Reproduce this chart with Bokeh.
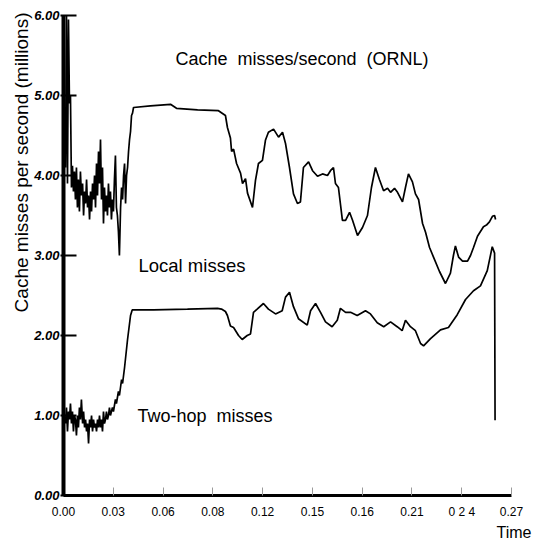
from bokeh.plotting import figure
from bokeh.models import FixedTicker, Label, NumeralTickFormatter, Title
from bokeh.embed import file_html
from bokeh.resources import INLINE

# ---------------- data ----------------
local_t = [0.0012, 0.0018, 0.0024, 0.0030, 0.0036, 0.0042, 0.0048, 0.0054, 0.0060, 0.0066,
           0.0072, 0.0078, 0.0084, 0.0090, 0.0096, 0.0102, 0.0108, 0.0115, 0.0121, 0.0127,
           0.0133, 0.0139, 0.0145, 0.0151, 0.0157, 0.0163, 0.0169, 0.0175, 0.0181, 0.0187,
           0.0193, 0.0199, 0.0205, 0.0211, 0.0217, 0.0223, 0.0229, 0.0235, 0.0241, 0.0247,
           0.0253, 0.0259, 0.0265, 0.0271, 0.0277, 0.0283, 0.0289, 0.0295, 0.0301, 0.0307,
           0.0313, 0.0319, 0.0325, 0.0331, 0.0337, 0.0344, 0.0350, 0.0356, 0.0362, 0.0368,
           0.0374, 0.0380, 0.0386, 0.0392, 0.0398, 0.0404, 0.0410, 0.0416, 0.0422,
           0.0524, 0.0645, 0.0681, 0.0808, 0.0934, 0.0976, 0.0988, 0.1006, 0.1013, 0.1025,
           0.1043, 0.1067, 0.1079, 0.1097, 0.1109, 0.1139, 0.1157, 0.1175, 0.1199, 0.1217,
           0.1235, 0.1266, 0.1296, 0.1320, 0.1338, 0.1362, 0.1386, 0.1410, 0.1428, 0.1446,
           0.1477, 0.1501, 0.1531, 0.1561, 0.1591, 0.1609, 0.1627, 0.1639, 0.1657, 0.1681,
           0.1700, 0.1724, 0.1742, 0.1772, 0.1802, 0.1832, 0.1856, 0.1880, 0.1904, 0.1929,
           0.1953, 0.1971, 0.1995, 0.2013, 0.2043, 0.2061, 0.2079, 0.2103, 0.2121, 0.2140,
           0.2164, 0.2182, 0.2206, 0.2230, 0.2266, 0.2302, 0.2332, 0.2350, 0.2362, 0.2381,
           0.2405, 0.2435, 0.2453, 0.2471, 0.2495, 0.2513, 0.2531, 0.2549, 0.2567, 0.2585,
           0.2598, 0.2604]
local_v = [4.10, 6.00, 3.90, 5.95, 4.90, 5.00, 3.85, 4.12, 3.80, 4.05,
           3.70, 4.10, 3.60, 3.95, 3.55, 4.05, 3.75, 3.90, 3.50, 3.80,
           3.65, 3.95, 3.60, 3.75, 3.45, 3.80, 3.55, 3.90, 3.70, 4.00,
           3.60, 4.15, 3.75, 4.30, 3.90, 4.45, 3.70, 4.10, 3.40, 3.85,
           3.55, 3.75, 3.50, 3.90, 3.60, 3.80, 3.45, 3.70, 3.55, 3.95,
           4.25, 3.60, 3.50, 3.30, 3.00, 3.60, 3.85, 3.70, 4.00, 4.15,
           3.65, 4.00, 4.10, 4.30, 4.45, 4.55, 4.75, 4.78, 4.85,
           4.87, 4.89, 4.84, 4.82, 4.81, 4.75, 4.60, 4.47, 4.30, 4.33,
           4.15, 4.03, 3.90, 3.96, 3.78, 3.60, 3.94, 4.15, 4.19, 4.44,
           4.54, 4.58, 4.48, 4.54, 4.40, 4.10, 3.77, 3.65, 3.67, 4.10,
           4.17, 4.06, 3.99, 4.02, 4.00, 4.06, 4.10, 3.90, 3.85, 3.44,
           3.44, 3.54, 3.44, 3.25, 3.35, 3.50, 3.85, 4.10, 3.95, 3.81,
           3.84, 3.79, 3.84, 3.79, 3.67, 3.85, 4.02, 3.92, 3.77, 3.70,
           3.40, 3.29, 3.10, 2.98, 2.80, 2.65, 2.78, 3.00, 3.12, 2.98,
           2.93, 2.93, 3.00, 3.10, 3.24, 3.30, 3.36, 3.38, 3.42, 3.49,
           3.50, 3.45]

twohop_t = [0.0012, 0.0018, 0.0024, 0.0030, 0.0036, 0.0042, 0.0048, 0.0054, 0.0060, 0.0066,
            0.0072, 0.0078, 0.0084, 0.0090, 0.0096, 0.0102, 0.0108, 0.0115, 0.0121, 0.0127,
            0.0133, 0.0139, 0.0145, 0.0151, 0.0157, 0.0163, 0.0169, 0.0175, 0.0181, 0.0187,
            0.0193, 0.0199, 0.0205, 0.0211, 0.0217, 0.0223, 0.0229, 0.0235, 0.0241, 0.0247,
            0.0253, 0.0259, 0.0265, 0.0271, 0.0277, 0.0283,
            0.0295, 0.0301, 0.0313, 0.0319, 0.0331, 0.0337, 0.0350, 0.0356, 0.0368, 0.0386,
            0.0404, 0.0414, 0.0542, 0.0747, 0.0928, 0.0952, 0.0976, 0.0988, 0.1006, 0.1025,
            0.1055, 0.1077, 0.1107, 0.1127, 0.1145, 0.1167, 0.1205, 0.1235, 0.1278, 0.1318,
            0.1338, 0.1362, 0.1386, 0.1416, 0.1469, 0.1489, 0.1519, 0.1549, 0.1579, 0.1619,
            0.1650, 0.1669, 0.1700, 0.1730, 0.1770, 0.1820, 0.1850, 0.1891, 0.1930, 0.1971,
            0.2011, 0.2041, 0.2061, 0.2091, 0.2121, 0.2152, 0.2170, 0.2212, 0.2272, 0.2320,
            0.2373, 0.2423, 0.2471, 0.2513, 0.2554, 0.2584, 0.2598, 0.2601]
twohop_v = [0.90, 1.10, 0.80, 1.05, 0.95, 1.15, 0.90, 1.05, 0.80, 1.00,
            0.95, 0.75, 1.00, 0.85, 1.10, 0.95, 1.20, 0.90, 1.05, 0.85,
            0.95, 0.80, 0.90, 0.65, 0.95, 0.85, 1.00, 0.80, 0.95, 0.85,
            0.90, 0.80, 0.95, 0.85, 1.00, 0.85, 0.95, 0.80, 1.05, 0.90,
            0.95, 1.05, 0.95, 1.00, 1.10, 1.00,
            1.10, 1.05, 1.20, 1.15, 1.30, 1.25, 1.45, 1.40, 1.60, 1.95,
            2.25, 2.32, 2.32, 2.33, 2.34, 2.33, 2.30, 2.25, 2.12, 2.10,
            2.00, 1.95, 2.00, 2.02, 2.29, 2.33, 2.40, 2.33, 2.27, 2.31,
            2.48, 2.54, 2.36, 2.21, 2.13, 2.31, 2.40, 2.29, 2.17, 2.11,
            2.19, 2.34, 2.29, 2.29, 2.25, 2.31, 2.27, 2.16, 2.11, 2.17,
            2.11, 2.06, 2.19, 2.11, 2.06, 1.90, 1.87, 1.96, 2.07, 2.10,
            2.26, 2.45, 2.56, 2.62, 2.81, 3.11, 3.03, 0.94]

y_ticks = [0, 1, 2, 3, 4, 5, 6]
x_ticks = [0.00, 0.03, 0.06, 0.09, 0.12, 0.15, 0.18, 0.21, 0.24, 0.27]
x_tick_labels = ["0.00", "0.03", "0.06", "0.08", "0.12", "0.15", "0.16", "0.21", "0 2 4", "0.27"]

title_text = "Cache\u00a0 misses/second\u00a0 (ORNL)"
y_title = "Cache misses per second (millions)"
x_title = "Time"
local_label = "Local misses"
twohop_label = "Two-hop\u00a0 misses"

FONT = "Liberation Sans"

# ---------------- figure ----------------
p = figure(width=557, height=544, x_range=(0, 0.27), y_range=(0, 6),
           output_backend="svg", toolbar_location=None,
           min_border_left=63, min_border_right=46, min_border_top=15, min_border_bottom=49)
p.outline_line_color = None
p.xgrid.visible = False
p.ygrid.visible = False
p.background_fill_color = "white"
p.border_fill_color = "white"

p.line(local_t, local_v, line_color="black", line_width=1.7)
p.line(twohop_t, twohop_v, line_color="black", line_width=1.7)

# y axis
ya = p.yaxis[0]
ya.ticker = FixedTicker(ticks=y_ticks)
ya.formatter = NumeralTickFormatter(format="0.00")
ya.axis_line_width = 4
ya.axis_line_color = "black"
ya.major_tick_in = 13
ya.major_tick_out = 3
ya.major_tick_line_width = 2
ya.minor_tick_line_color = None
ya.major_label_text_font = FONT
ya.major_label_text_font_size = "13px"
ya.major_label_text_font_style = "bold italic"
ya.major_label_text_color = "black"
ya.major_label_standoff = 1

# x axis
xa = p.xaxis[0]
xa.ticker = FixedTicker(ticks=x_ticks)
xa.major_label_overrides = {t: l for t, l in zip(x_ticks, x_tick_labels)}
xa.axis_line_width = 3
xa.axis_line_color = "black"
xa.major_tick_in = 8
xa.major_tick_out = 0
xa.major_tick_line_color = "#9a9a9a"
xa.major_tick_line_width = 1
xa.minor_tick_line_color = None
xa.major_label_text_font = FONT
xa.major_label_text_font_size = "12px"
xa.major_label_text_color = "black"
xa.major_label_standoff = 9

# side titles (axis titles placed off-centre as in the reference)
p.add_layout(Title(text=y_title, align="right", text_font=FONT, text_font_size="19px",
                   text_font_style="normal", text_color="black", offset=-3,
                   standoff=0), "left")
p.add_layout(Title(text=x_title, align="right", text_font=FONT, text_font_size="16px",
                   text_font_style="normal", text_color="black", offset=-20,
                   standoff=0), "below")

# in-plot texts
p.add_layout(Label(x=0.0675, y=5.46, text=title_text, text_font=FONT,
                   text_font_size="18px", text_color="black", text_baseline="alphabetic"))
p.add_layout(Label(x=0.0452, y=2.875, text=local_label, text_font=FONT,
                   text_font_size="18.5px", text_color="black", text_baseline="alphabetic"))
p.add_layout(Label(x=0.0446, y=1.0, text=twohop_label, text_font=FONT,
                   text_font_size="18px", text_color="black", text_baseline="alphabetic"))

open("out.html", "w").write(file_html(p, INLINE))
